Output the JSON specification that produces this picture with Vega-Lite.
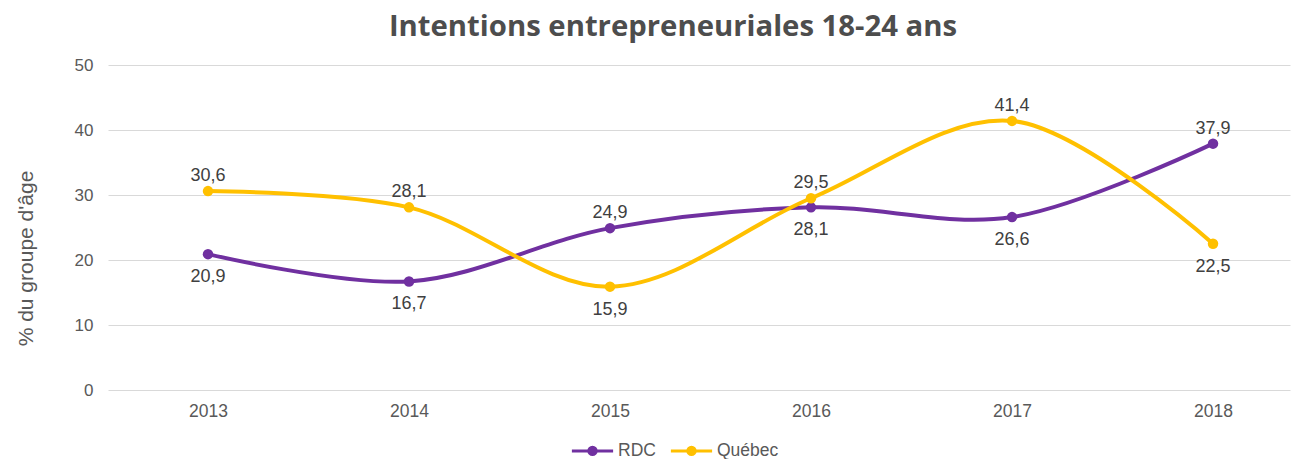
{
  "$schema": "https://vega.github.io/schema/vega-lite/v6.json",
  "width": 1182,
  "height": 325,
  "autosize": {"type": "none"},
  "padding": {"left": 108, "top": 65, "right": 13, "bottom": 69},
  "background": "#ffffff",
  "title": {
    "text": "Intentions entrepreneuriales 18-24 ans",
    "font": "Open Sans",
    "fontSize": 29.3,
    "fontWeight": "bold",
    "color": "#4d4d4d",
    "anchor": "middle",
    "dx": -26,
    "offset": 14
  },
  "config": {
    "view": {"stroke": null},
    "font": "Liberation Sans",
    "locale": {
      "number": {"decimal": ",", "thousands": " ", "grouping": [3], "currency": ["", " €"]}
    }
  },
  "data": {
    "values": [
      {"year": 2013, "serie": "RDC", "value": 20.9},
      {"year": 2014, "serie": "RDC", "value": 16.7},
      {"year": 2015, "serie": "RDC", "value": 24.9},
      {"year": 2016, "serie": "RDC", "value": 28.1},
      {"year": 2017, "serie": "RDC", "value": 26.6},
      {"year": 2018, "serie": "RDC", "value": 37.9},
      {"year": 2013, "serie": "Québec", "value": 30.6},
      {"year": 2014, "serie": "Québec", "value": 28.1},
      {"year": 2015, "serie": "Québec", "value": 15.9},
      {"year": 2016, "serie": "Québec", "value": 29.5},
      {"year": 2017, "serie": "Québec", "value": 41.4},
      {"year": 2018, "serie": "Québec", "value": 22.5}
    ]
  },
  "transform": [
    {"joinaggregate": [{"op": "max", "field": "value", "as": "maxval"}], "groupby": ["year"]}
  ],
  "encoding": {
    "x": {
      "field": "year",
      "type": "quantitative",
      "scale": {"domain": [2012.5025, 2018.383], "nice": false, "zero": false},
      "axis": {
        "values": [2013, 2014, 2015, 2016, 2017, 2018],
        "format": "d",
        "title": null,
        "grid": false,
        "domain": false,
        "ticks": false,
        "labelFontSize": 17.5,
        "labelColor": "#595959",
        "labelPadding": 12,
        "labelFont": "Liberation Sans"
      }
    },
    "y": {
      "field": "value",
      "type": "quantitative",
      "scale": {"domain": [0, 50], "nice": false},
      "axis": {
        "values": [0, 10, 20, 30, 40, 50],
        "title": "% du groupe d'âge",
        "titleFont": "Liberation Sans",
        "titleFontSize": 21,
        "titleFontWeight": "normal",
        "titleColor": "#595959",
        "titlePadding": 38,
        "titleY": 193,
        "grid": true,
        "gridColor": "#d9d9d9",
        "gridWidth": 1,
        "domain": false,
        "ticks": false,
        "labelFontSize": 17,
        "labelColor": "#595959",
        "labelPadding": 15,
        "labelFont": "Liberation Sans"
      }
    },
    "color": {
      "field": "serie",
      "type": "nominal",
      "scale": {"domain": ["RDC", "Québec"], "range": ["#7030a0", "#ffc000"]},
      "legend": {
        "title": null,
        "orient": "none",
        "direction": "horizontal",
        "legendX": 462,
        "legendY": 363,
        "symbolType": "M-1,0H1M0.18,0A0.18,0.18,0,1,1,-0.18,0A0.18,0.18,0,1,1,0.18,0Z",
        "symbolSize": 1700,
        "symbolStrokeWidth": 3,
        "labelFontSize": 17.5,
        "labelColor": "#595959",
        "labelFont": "Liberation Sans",
        "columnPadding": 8,
        "labelOffset": 3,
        "encode": {
          "symbols": {"update": {"size": {"value": 1700}, "strokeWidth": {"value": 3}}}
        }
      }
    }
  },
  "layer": [
    {
      "mark": {"type": "line", "interpolate": "catmull-rom", "strokeWidth": 4, "strokeCap": "round"}
    },
    {
      "mark": {"type": "point", "filled": true, "size": 110, "opacity": 1}
    },
    {
      "transform": [{"filter": "datum.value == datum.maxval"}],
      "mark": {"type": "text", "dy": -15, "fontSize": 18, "font": "Liberation Sans", "baseline": "middle"},
      "encoding": {
        "text": {"field": "value", "type": "quantitative", "format": ".1f"},
        "color": {"value": "#404040"}
      }
    },
    {
      "transform": [{"filter": "datum.value < datum.maxval"}],
      "mark": {"type": "text", "dy": 23, "fontSize": 18, "font": "Liberation Sans", "baseline": "middle"},
      "encoding": {
        "text": {"field": "value", "type": "quantitative", "format": ".1f"},
        "color": {"value": "#404040"}
      }
    }
  ]
}
